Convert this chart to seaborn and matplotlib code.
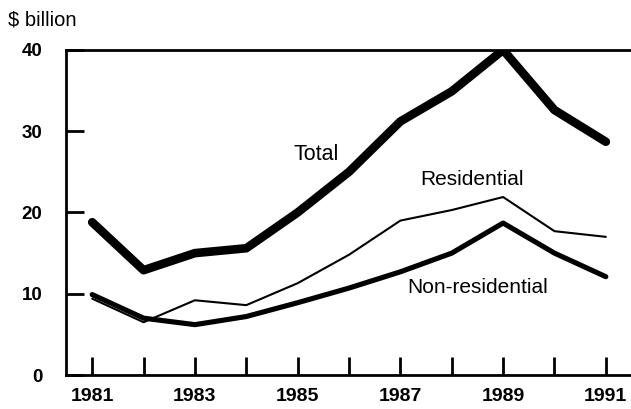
import pandas as pd
import matplotlib.pyplot as plt
import seaborn as sns

years = list(range(1981, 1992))
total = [18.8, 12.9, 15.0, 15.6, 20.0, 25.0, 31.2, 34.9, 40.0, 32.6, 28.7]
residential = [9.4, 6.5, 9.2, 8.6, 11.3, 14.8, 19.0, 20.3, 21.9, 17.7, 17.0]
non_residential = [9.9, 7.0, 6.2, 7.2, 8.9, 10.7, 12.7, 15.0, 18.7, 15.0, 12.1]

data = pd.DataFrame({'year': years, 'Total': total,
                     'Residential': residential, 'Non-residential': non_residential})

sns.set_style('white', {'text.color': 'black', 'xtick.color': 'black',
                        'ytick.color': 'black', 'axes.edgecolor': 'black'})
plt.rcParams['font.family'] = ['Liberation Sans', 'DejaVu Sans']

fig = plt.figure(figsize=(6.31, 4.09), dpi=100)
ax = fig.add_axes([0.1046, 0.083, 0.8954, 0.795])

sns.lineplot(data=data, x='year', y='Total', color='black', linewidth=6.2, ax=ax)
sns.lineplot(data=data, x='year', y='Residential', color='black', linewidth=1.5, ax=ax)
sns.lineplot(data=data, x='year', y='Non-residential', color='black', linewidth=3.7, ax=ax)

ax.set_xlim(1980.49, 1991.49)
ax.set_ylim(0, 40)
ax.set_xlabel('')
ax.set_ylabel('')

ax.set_xticks(years)
ax.set_xticklabels([str(y) if y % 2 == 1 else '' for y in years],
                   fontsize=14, fontweight='bold', color='black')
ax.set_yticks([0, 10, 20, 30, 40])
ax.set_yticklabels(['0', '10', '20', '30', '40'], fontsize=13.5,
                   fontweight='bold', color='black')
ax.tick_params(axis='x', direction='in', length=13, width=2, pad=9, bottom=True, color='black')
ax.tick_params(axis='y', direction='in', length=13, width=2, pad=17, left=True, color='black')

for side in ['left', 'top', 'bottom']:
    ax.spines[side].set_visible(True)
    ax.spines[side].set_color('black')
    ax.spines[side].set_linewidth(2)
ax.spines['right'].set_visible(False)

ax.text(1985.36, 27.1, 'Total', fontsize=15.5, ha='center', va='center', color='black')
ax.text(1988.39, 24.0, 'Residential', fontsize=15, ha='center', va='center', color='black')
ax.text(1988.51, 10.8, 'Non-residential', fontsize=15, ha='center', va='center', color='black')
fig.text(0.013, 0.951, '$ billion', fontsize=14.5, ha='left', va='center', color='black')

fig.savefig('out.png', dpi=100)
